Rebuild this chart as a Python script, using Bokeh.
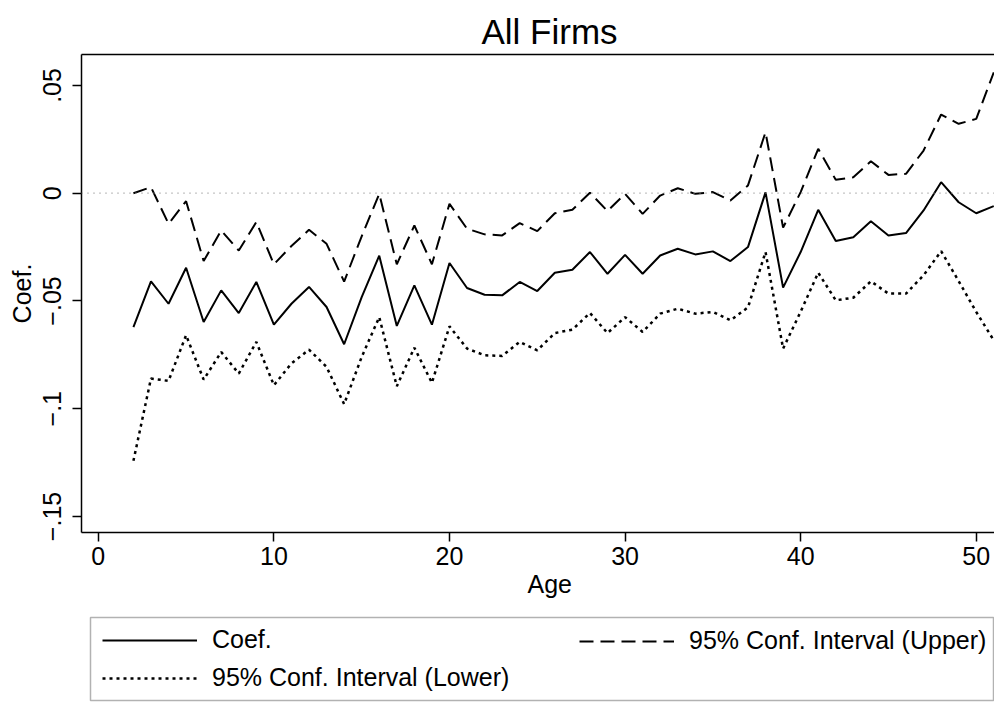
from bokeh.plotting import figure
from bokeh.layouts import column
from bokeh.models import (Range1d, Span, Legend, LegendItem, FixedTicker, LinearAxis, Title,
                          BoxAnnotation)
from bokeh.embed import file_html
from bokeh.resources import INLINE

ages = list(range(2, 52))

coef = [-0.0621, -0.0409, -0.0513, -0.0346, -0.0598, -0.0451, -0.0556, -0.0412, -0.0610, -0.0513,
        -0.0435, -0.0528, -0.0701, -0.0482, -0.0290, -0.0616, -0.0428, -0.0610, -0.0324, -0.0440,
        -0.0471, -0.0474, -0.0412, -0.0454, -0.0369, -0.0355, -0.0273, -0.0374, -0.0286, -0.0374,
        -0.0289, -0.0258, -0.0284, -0.0270, -0.0315, -0.0250, 0.0004, -0.0438, -0.0273, -0.0077,
        -0.0222, -0.0204, -0.0130, -0.0196, -0.0185, -0.0080, 0.0051, -0.0042, -0.0093, -0.0060]

upper = [0.0000, 0.0028, -0.0142, -0.0037, -0.0315, -0.0173, -0.0266, -0.0134, -0.0330, -0.0245,
         -0.0170, -0.0235, -0.0410, -0.0200, -0.0003, -0.0330, -0.0150, -0.0330, -0.0049, -0.0165,
         -0.0191, -0.0196, -0.0139, -0.0176, -0.0093, -0.0077, 0.0002, -0.0083, -0.0003, -0.0096,
         -0.0011, 0.0023, -0.0003, 0.0005, -0.0034, 0.0036, 0.0283, -0.0160, 0.0005, 0.0206,
         0.0062, 0.0074, 0.0148, 0.0085, 0.0090, 0.0198, 0.0365, 0.0322, 0.0345, 0.0561]

lower = [-0.1242, -0.0860, -0.0871, -0.0659, -0.0865, -0.0737, -0.0837, -0.0690, -0.0891, -0.0790,
         -0.0726, -0.0806, -0.0979, -0.0760, -0.0575, -0.0896, -0.0717, -0.0880, -0.0618, -0.0721,
         -0.0752, -0.0755, -0.0690, -0.0729, -0.0649, -0.0633, -0.0556, -0.0649, -0.0575, -0.0644,
         -0.0559, -0.0536, -0.0559, -0.0551, -0.0590, -0.0530, -0.0273, -0.0721, -0.0550, -0.0369,
         -0.0497, -0.0485, -0.0409, -0.0466, -0.0466, -0.0381, -0.0269, -0.0408, -0.0551, -0.0683]

x_ticks = [0, 10, 20, 30, 40, 50]
y_ticks = [-0.15, -0.1, -0.05, 0, 0.05]
y_tick_labels = ["\u2212.15", "\u2212.1", "\u2212.05", "0", ".05"]

title_text = "All Firms"
x_title = "Age"
y_title = "Coef."
series_names = ["Coef.", "95% Conf. Interval (Upper)", "95% Conf. Interval (Lower)"]

FONT = "Liberation Sans"
FS = "25px"

SOLID = dict(line_color="black", line_width=2)
DASH = dict(line_color="black", line_width=2, line_dash="14 7")
DOT = dict(line_color="black", line_width=2.5, line_dash="3 4")

# ---------------- main plot ----------------
p = figure(frame_width=913, frame_height=478, output_backend="svg", toolbar_location=None,
           x_range=Range1d(-0.957, 51.04), y_range=Range1d(-0.15745, 0.06436),
           min_border_left=81, min_border_right=0, min_border_top=54, min_border_bottom=80)

p.background_fill_color = "white"
p.border_fill_color = "white"
p.outline_line_color = None
p.grid.visible = False

xax = p.below[0]
yax = p.left[0]

p.title.text = title_text
p.title.text_font = FONT
p.title.text_font_size = "35px"
p.title.text_font_style = "normal"
p.title.align = "left"
p.title.text_color = "black"
p.title.standoff = 8
p.title.offset = 400

for ax in (xax, yax):
    ax.axis_line_color = "black"
    ax.axis_line_width = 1.5
    ax.major_tick_line_color = "black"
    ax.major_tick_line_width = 1.5
    ax.major_tick_out = 9
    ax.major_tick_in = 0
    ax.minor_tick_line_color = None
    ax.major_label_text_font = FONT
    ax.major_label_text_font_size = FS
    ax.major_label_text_color = "black"
    ax.axis_label_text_font = FONT
    ax.axis_label_text_font_size = FS
    ax.axis_label_text_font_style = "normal"
    ax.axis_label_text_color = "black"

xax.ticker = FixedTicker(ticks=x_ticks)
xax.major_label_standoff = 5

yax.ticker = FixedTicker(ticks=y_ticks)
yax.major_label_overrides = {t: l for t, l in zip(y_ticks, y_tick_labels)}
yax.major_label_orientation = "parallel"
yax.axis_label = y_title
yax.major_label_standoff = 11
yax.axis_label_standoff = 5

# top frame line (plot region runs past the right edge, as in the reference)
top_ax = LinearAxis(ticker=FixedTicker(ticks=[]), axis_line_color="black", axis_line_width=1.5,
                    major_tick_line_color=None, minor_tick_line_color=None,
                    major_label_text_font_size="0px")
p.add_layout(top_ax, "above")

x_title_obj = Title(text=x_title, align="left", text_font=FONT, text_font_size=FS,
                    text_font_style="normal", text_color="black", offset=446, standoff=0)
p.add_layout(x_title_obj, "below")

p.add_layout(Span(location=0, dimension="width", line_color="#8a8a8a",
                  line_width=1.2, line_dash="1 5"))

p.line(ages, coef, **SOLID)
p.line(ages, upper, **DASH)
p.line(ages, lower, **DOT)

# ---------------- legend strip (pixel-like coordinates) ----------------
lg = figure(frame_width=913, frame_height=90, output_backend="svg", toolbar_location=None,
            x_axis_type=None, y_axis_type=None, x_range=Range1d(0, 913), y_range=Range1d(0, 90),
            min_border_left=81, min_border_right=0, min_border_top=0, min_border_bottom=0)
lg.grid.visible = False
lg.outline_line_color = None
lg.background_fill_color = "white"
lg.border_fill_color = "white"
lg.extra_y_ranges = {"keys": Range1d(10, 20)}

lg.add_layout(BoxAnnotation(left=9, right=912, bottom=2, top=85, fill_alpha=0,
                            line_color="black", line_width=1.5))

# key renderers (their data lie outside the strip's range, only the legend glyph shows)
k_coef = lg.line(ages, coef, y_range_name="keys", **SOLID)
k_up = lg.line(ages, upper, y_range_name="keys", **DASH)
k_lo = lg.line(ages, lower, y_range_name="keys", **DOT)


def style(leg):
    leg.label_text_font = FONT
    leg.label_text_font_size = FS
    leg.label_text_color = "black"
    leg.glyph_width = 95
    leg.glyph_height = 26
    leg.label_standoff = 15
    leg.label_height = 26
    leg.spacing = 9
    leg.padding = 0
    leg.margin = 0
    leg.border_line_color = None
    leg.background_fill_alpha = 0


leg_a = Legend(items=[LegendItem(label=series_names[0], renderers=[k_coef]),
                      LegendItem(label=series_names[2], renderers=[k_lo])],
               orientation="vertical", location=(21, 10))
leg_b = Legend(items=[LegendItem(label=series_names[1], renderers=[k_up])],
               orientation="vertical", location=(498, 47))
style(leg_a)
style(leg_b)
lg.add_layout(leg_a, "center")
lg.add_layout(leg_b, "center")

layout = column(p, lg, spacing=0)
open("out.html", "w").write(file_html(layout, INLINE))
